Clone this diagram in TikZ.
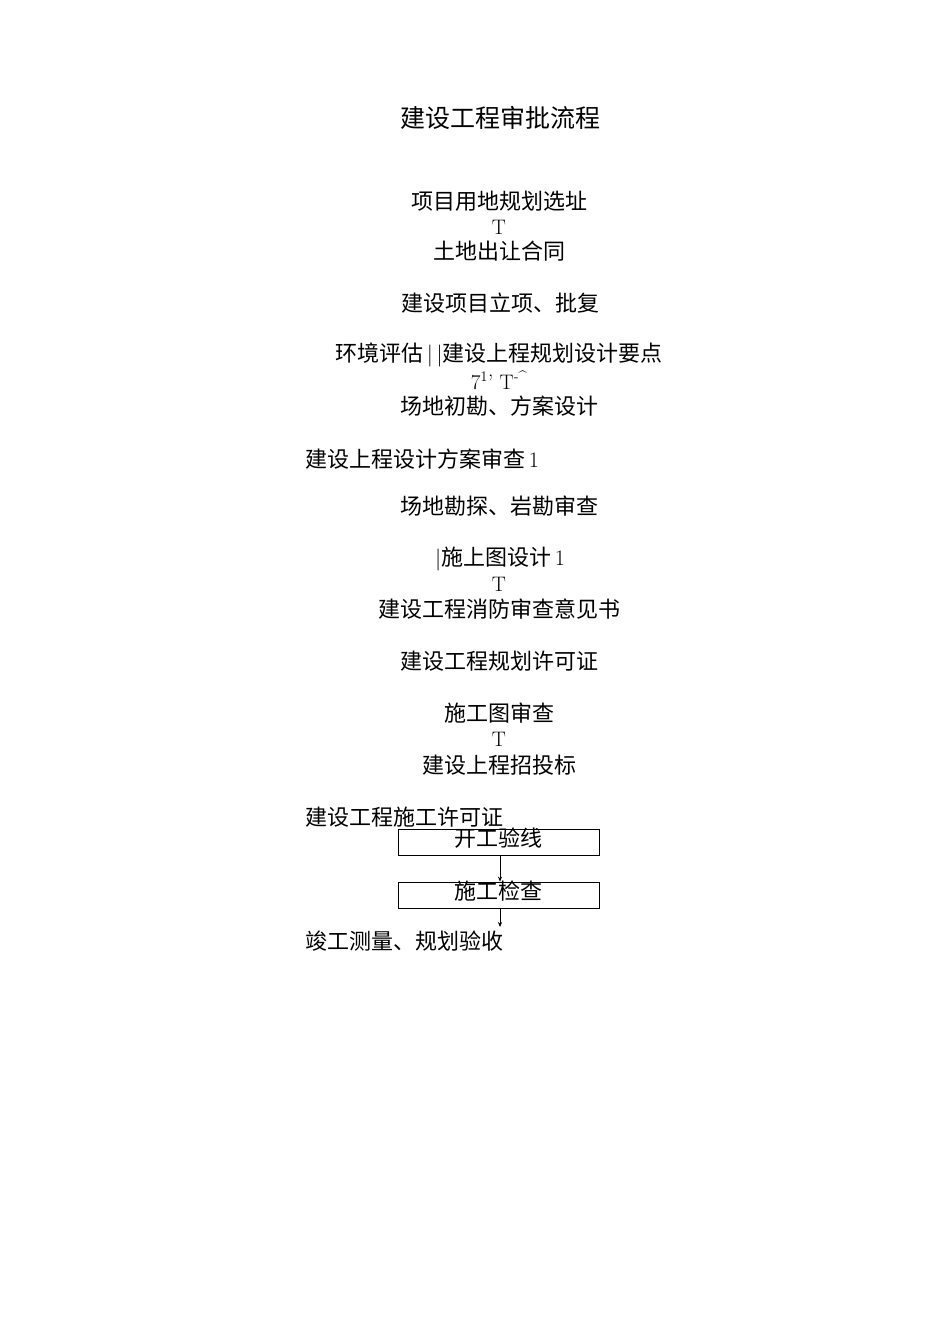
\documentclass[tikz,border=0pt]{standalone}
\usepackage{fontspec}
\newfontfamily\cjk{Noto Sans CJK SC}
\usetikzlibrary{arrows.meta}
\begin{document}
\begin{tikzpicture}[x=1pt,y=-1pt,
    step text/.style={font=\cjk\fontsize{22}{26}\selectfont, inner sep=0pt},
    arr text/.style={font=\fontsize{21}{24}\selectfont, inner sep=0pt},
    stage box/.style={draw, line width=0.8pt, minimum width=201pt, minimum height=26pt,
        inner sep=0pt, text height=17pt, text depth=8pt,
        font=\cjk\fontsize{22}{26}\selectfont},
    flow/.style={-{Stealth[length=5pt,width=4pt]}, line width=0.6pt}]
    \useasboundingbox (0,0) rectangle (950,1344);
    \node [font=\cjk\fontsize{25}{30}\selectfont] (title) at (500,118) {建设工程审批流程};
    \node [step text] (site) at (499,201) {项目用地规划选址};
    \node [arr text] (t1) at (499,227) {T};
    \node [step text] (land) at (499,251) {土地出让合同};
    \node [step text] (approve) at (500,303) {建设项目立项、批复};
    \node [step text] (env) at (499,355) {环境评估\textnormal{\,|\,|}建设上程规划设计要点};
    \node [arr text] (t2) at (499,380) {7\textsuperscript{1}’ T\textsuperscript{-\^{}}};
    \node [step text] (survey) at (499,406) {场地初勘、方案设计};
    \node [step text, anchor=west] (review) at (305,459) {建设上程设计方案审查\textnormal{\,1}};
    \node [step text] (explore) at (499,506) {场地勘探、岩勘审查};
    \node [step text] (design) at (500,559) {\textnormal{|}施上图设计\textnormal{\,1}};
    \node [arr text] (t3) at (499,584) {T};
    \node [step text] (fire) at (499,609) {建设工程消防审查意见书};
    \node [step text] (plan) at (499,661) {建设工程规划许可证};
    \node [step text] (check) at (499,713) {施工图审查};
    \node [arr text] (t4) at (499,739) {T};
    \node [step text] (bid) at (499,765) {建设上程招投标};
    \node [step text, anchor=west] (permit) at (305,817) {建设工程施工许可证};
    \node [stage box] (start) at (498.5,842) {开工验线};
    \node [stage box] (inspect) at (498.5,895) {施工检查};
    \node [step text, anchor=west] (final) at (305,941) {竣工测量、规划验收};
    \coordinate (finaltop) at (500,927);
    \draw [flow] (start.south -| finaltop) -- (inspect.north -| finaltop);
    \draw [flow] (inspect.south -| finaltop) -- (finaltop);
\end{tikzpicture}
\end{document}
